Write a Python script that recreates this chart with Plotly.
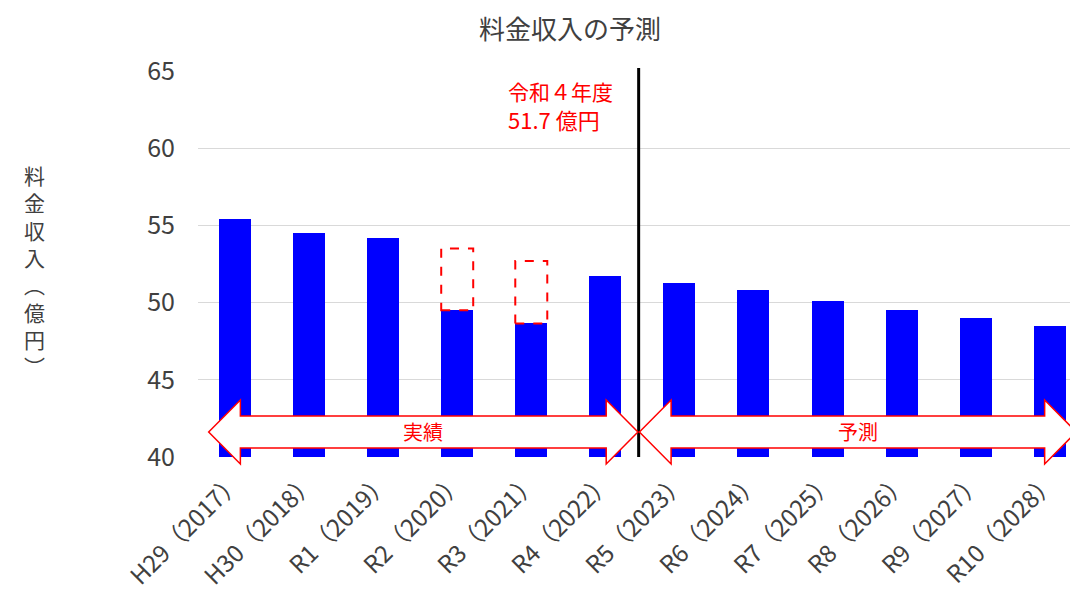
import plotly.graph_objects as go

# ---- data ----
categories = ["H29（2017）", "H30（2018）", "R1（2019）", "R2（2020）", "R3（2021）", "R4（2022）",
              "R5（2023）", "R6（2024）", "R7（2025）", "R8（2026）", "R9（2027）", "R10（2028）"]
revenue = [55.4, 54.5, 54.2, 49.5, 48.65, 51.7, 51.3, 50.8, 50.1, 49.55, 49.0, 48.5]
# values before reduction (dashed boxes), None where not applicable
before_reduction = [None, None, None, 53.5, 52.7, None, None, None, None, None, None, None]
y_ticks = [40, 45, 50, 55, 60, 65]
y_title_chars = ["料", "金", "収", "入", "︵", "億", "円", "︶"]

FONT = "Noto Sans CJK JP"
RED = "#FF0000"
BLUE = "#0000FF"
GREY = "#404040"

# page body has an 8px margin, so the figure is sized to fill the rest of the window
W, H = 1070, 586
ML, MR, MT, MB = 190, 0, 63, 137
plot_w = W - ML - MR
plot_h = H - MT - MB
step_px = 74.06
x_range = [-0.5, -0.5 + plot_w / step_px]
y_range = [40, 65]

def px(x):
    return (x - x_range[0]) / (x_range[1] - x_range[0])

def py(v):
    return (v - y_range[0]) / (y_range[1] - y_range[0])

xs = list(range(len(categories)))
bar_w = 0.432

fig = go.Figure()
fig.add_trace(go.Bar(x=xs, y=[v - 40 for v in revenue], base=40, width=bar_w,
                     marker=dict(color=BLUE, line=dict(width=0)), showlegend=False,
                     hoverinfo="skip"))

shapes = []
# dashed boxes for pre-reduction amount
for i, (v, b) in enumerate(zip(revenue, before_reduction)):
    if b is not None:
        shapes.append(dict(type="rect", xref="x", yref="y", x0=i - bar_w / 2, x1=i + bar_w / 2,
                           y0=v, y1=b, line=dict(color=RED, width=2, dash="dash"),
                           fillcolor="rgba(0,0,0,0)", layer="above"))

# divider between actual and forecast
split = 5.45
shapes.append(dict(type="line", xref="paper", yref="paper", x0=px(split), x1=px(split),
                   y0=0, y1=1.008, line=dict(color="black", width=3), layer="above"))

def arrow_path(xl, xr, yc, shaft, head, hl):
    pts = [(xl, yc), (xl + hl, yc + head), (xl + hl, yc + shaft), (xr - hl, yc + shaft),
           (xr - hl, yc + head), (xr, yc), (xr - hl, yc - head), (xr - hl, yc - shaft),
           (xl + hl, yc - shaft), (xl + hl, yc - head)]
    return "M " + " L ".join(f"{px(a):.5f},{py(b):.5f}" for a, b in pts) + " Z"

yc, shaft, head, hl = 41.62, 1.03, 2.07, 0.428
for xl, xr in [(-0.356, 5.44), (5.46, 11.36)]:
    shapes.append(dict(type="path", xref="paper", yref="paper",
                       path=arrow_path(xl, xr, yc, shaft, head, hl),
                       fillcolor="white", line=dict(color=RED, width=1.5), layer="above"))

annotations = [
    dict(x=(-0.356 + 5.44) / 2, y=yc, xref="x", yref="y", text="実績", showarrow=False,
         font=dict(family=FONT, size=20, color=RED)),
    dict(x=(5.46 + 11.36) / 2, y=yc, xref="x", yref="y", text="予測", showarrow=False,
         font=dict(family=FONT, size=20, color=RED)),
    dict(x=3.665, y=63.7, xref="x", yref="y", xanchor="left", yanchor="middle",
         text="令和４年度", showarrow=False, font=dict(family=FONT, size=21, color=RED)),
    dict(x=3.665, y=61.9, xref="x", yref="y", xanchor="left", yanchor="middle",
         text="51.7 億円", showarrow=False, font=dict(family=FONT, size=22, color=RED)),
    # vertical y-axis title
    dict(x=(26 - ML) / plot_w, y=((H - MB) - 262) / plot_h, xref="paper", yref="paper",
         xanchor="center", yanchor="middle", text="<br>".join(y_title_chars),
         showarrow=False, align="center", font=dict(family=FONT, size=21, color=GREY)),
]

fig.update_layout(
    width=W, height=H,
    margin=dict(l=ML, r=MR, t=MT, b=MB),
    paper_bgcolor="white", plot_bgcolor="white",
    title=dict(text="料金収入の予測", x=562 / W, xref="container", xanchor="center",
               y=1 - 22 / H, yref="container", yanchor="middle",
               font=dict(family=FONT, size=26, color=GREY)),
    xaxis=dict(range=x_range, tickmode="array", tickvals=xs, ticktext=categories,
               tickangle=-45, showgrid=False, zeroline=False, showline=False, ticks="",
               ticklabelstandoff=5,
               tickfont=dict(family=FONT, size=24, color=GREY)),
    yaxis=dict(range=y_range, tickmode="array", tickvals=y_ticks, showgrid=True,
               gridcolor="#d9d9d9", gridwidth=1, zeroline=False, showline=False, ticks="",
               ticklabelstandoff=22,
               tickfont=dict(family=FONT, size=25, color=GREY)),
    shapes=shapes, annotations=annotations, bargap=0,
)

fig.write_html("out.html")
